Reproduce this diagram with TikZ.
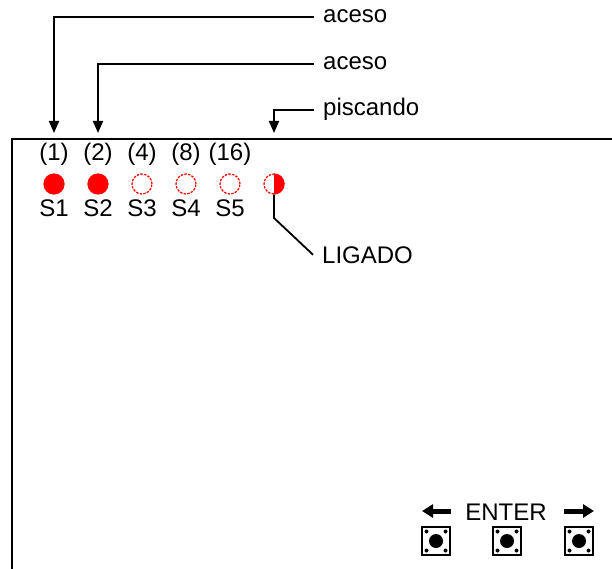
\documentclass[tikz,border=0pt]{standalone}
\usepackage{fontspec}
\setmainfont{Liberation Sans}
\usetikzlibrary{arrows.meta}
\begin{document}
\begin{tikzpicture}[x=1pt,y=-1pt,
  txt/.style={inner sep=0pt, font=\fontsize{24}{28}\selectfont},
  conn/.style={line width=1.8pt},
  arr/.style={conn, -{Triangle[length=12pt,width=10pt]}},
  led/.style={circle, minimum size=20pt, inner sep=0pt, line width=1.2pt, draw=red},
  ledon/.style={led, fill=red},
  ledoff/.style={led, dash pattern=on 2.5pt off 1.2pt},
  btn/.style={draw, line width=2.2pt, minimum size=28pt, inner sep=0pt},
  bigarr/.style={line width=5pt, -{Triangle[length=11pt,width=13pt]}}
]
\useasboundingbox (0,0) rectangle (612,569);
\clip (0,0) rectangle (612,569);
\fill[white] (0,0) rectangle (612,569);

% panel frame
\draw[line width=2pt] (12,590) -- (12,139) -- (630,139);

% weights
\node[txt,anchor=base] (w1) at (54,161) {(1)};
\node[txt,anchor=base] (w2) at (98,161) {(2)};
\node[txt,anchor=base] (w3) at (142,161) {(4)};
\node[txt,anchor=base] (w4) at (186,161) {(8)};
\node[txt,anchor=base] (w5) at (230,161) {(16)};

% LEDs
\node[ledon] (l1) at (54,184) {};
\node[ledon] (l2) at (98,184) {};
\node[ledoff] (l3) at (142,184) {};
\node[ledoff] (l4) at (186,184) {};
\node[ledoff] (l5) at (230,184) {};
\node[ledoff] (l6) at (274,184) {};
\fill[red] (l6.north) arc[start angle=90,end angle=-90,radius=10.6pt] -- cycle;

% switch labels
\node[txt,anchor=base] (s1) at (54,216) {S1};
\node[txt,anchor=base] (s2) at (98,216) {S2};
\node[txt,anchor=base] (s3) at (142,216) {S3};
\node[txt,anchor=base] (s4) at (186,216) {S4};
\node[txt,anchor=base] (s5) at (230,216) {S5};

% callouts
\coordinate (p1) at (54,133);
\coordinate (p2) at (98,133);
\coordinate (p6) at (274,133);
\node[txt,anchor=base west] (a1) at (323,23) {aceso};
\node[txt,anchor=base west] (a2) at (323,70) {aceso};
\node[txt,anchor=base west] (ps) at (323,116) {piscando};
\draw[arr] ([xshift=-9pt]a1.west) -| (p1);
\draw[arr] ([xshift=-9pt]a2.west) -| (p2);
\draw[arr] ([xshift=-9pt]ps.west) -| (p6);

\node[txt,anchor=base west] (lig) at (322,263) {LIGADO};
\coordinate (k) at (274,218);
\draw[conn] (l6.south) -- (k) -- ([xshift=-9pt]lig.west);

% buttons
\node[btn] (b1) at (436,541) {};
\node[btn] (b2) at (507,541) {};
\node[btn] (b3) at (579,541) {};
\foreach \b in {b1,b2,b3} {
  \fill (\b.center) circle (7pt);
  \foreach \dx/\dy in {-9.5/-9.5,9.5/-9.5,-9.5/9.5,9.5/9.5}
    \fill ([shift={(\dx pt,\dy pt)}]\b.center) circle (2pt);
}

\coordinate (la) at (451,511);
\coordinate (lat) at (422,511);
\coordinate (ra) at (564,511);
\coordinate (rat) at (594,511);
\draw[bigarr] (la) -- (lat);
\draw[bigarr] (ra) -- (rat);
\node[txt,anchor=base] (en) at (506,520) {ENTER};
\end{tikzpicture}
\end{document}
